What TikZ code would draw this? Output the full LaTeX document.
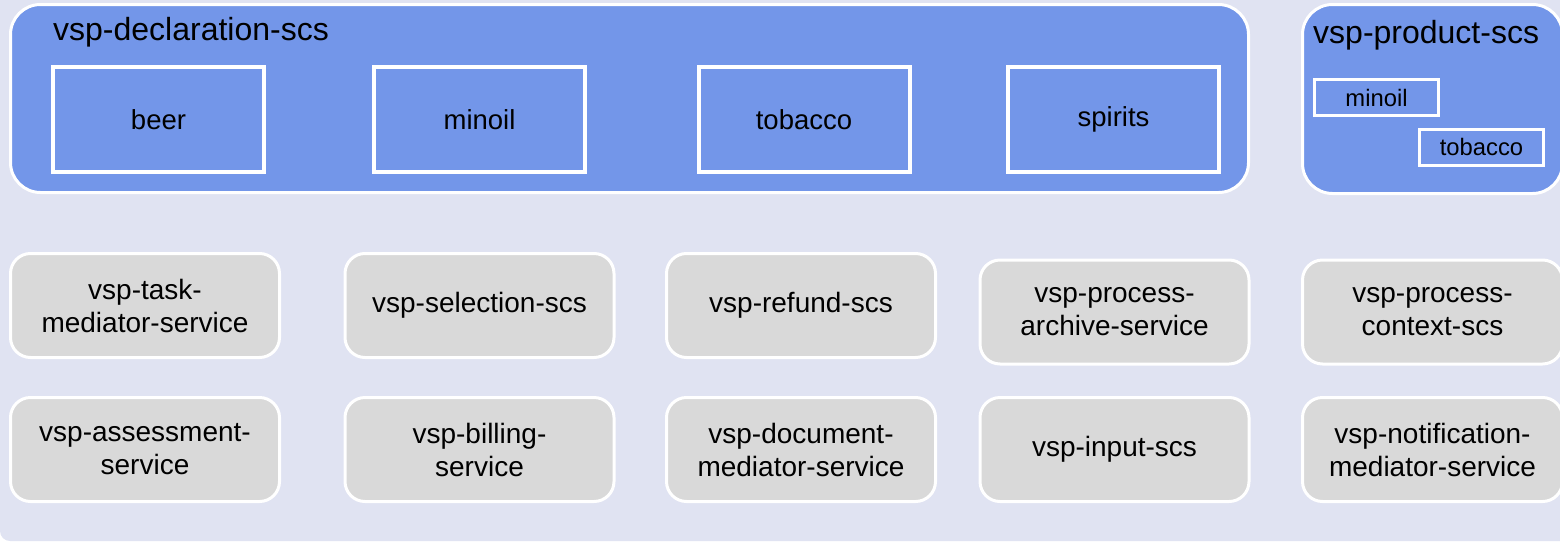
\documentclass[tikz,border=0pt]{standalone}
\usepackage{fontspec}
\setmainfont{Liberation Sans}
\definecolor{bgback}{RGB}{224,227,242}
\definecolor{scsblue}{RGB}{115,150,233}
\definecolor{svcgray}{RGB}{217,217,217}
\begin{document}
\begin{tikzpicture}[x=1pt,y=-1pt,
    scs/.style={draw=white,line width=3pt,fill=scsblue,rounded corners=30pt,inner sep=0pt},
    part/.style={draw=white,line width=4pt,fill=scsblue,minimum width=211pt,minimum height=105pt,inner sep=0pt,font=\fontsize{27.5}{33}\selectfont},
    smallpart/.style={draw=white,line width=3pt,fill=scsblue,minimum width=124pt,minimum height=36pt,inner sep=0pt,font=\fontsize{23.8}{28}\selectfont},
    service/.style={draw=white,line width=3pt,fill=svcgray,rounded corners=20pt,minimum width=269pt,minimum height=104pt,inner sep=0pt,align=center,font=\fontsize{28}{33}\selectfont},
    title/.style={anchor=base west,inner sep=0pt,font=\fontsize{32}{38}\selectfont}]
         %sfondo
         \useasboundingbox (0,0) rectangle (1560,541);
         \clip (0,0) rectangle (1560,541);
         \fill[bgback,rounded corners=10pt] (0,-20) rectangle (1600,541);
         %declaration
         \node[scs,minimum width=1238pt,minimum height=188pt] (decl) at (629.5,98.5) {};
         \node[title] (decltitle) at (53,40) {vsp-declaration-scs};
         \node[part] (beer) at (158.5,119.5) {beer};
         \node[part] (minoil) at (479.5,119.5) {minoil};
         \node[part] (tobacco) at (804,119.5) {tobacco};
         \node[part] (spirits) at (1113.5,119.5) {spirits};
         %product
         \node[scs,minimum width=260pt,minimum height=189pt] (prod) at (1432.5,99) {};
         \node[title] (prodtitle) at (1313,43) {vsp-product-scs};
         \node[smallpart] (pminoil) at (1376.5,97.5) {minoil};
         \node[smallpart] (ptobacco) at (1481.5,147) {tobacco};
         %prima fila
         \node[service] (task) at (145,305.5) {vsp-task-\\mediator-service};
         \node[service] (selection) at (479.5,305.5) {vsp-selection-scs};
         \node[service] (refund) at (801,305.5) {vsp-refund-scs};
         \node[service] (archive) at (1114.5,312) {vsp-process-\\archive-service};
         \node[service,minimum width=260pt] (context) at (1432.5,312) {vsp-process-\\context-scs};
         %seconda fila
         \node[service] (assessment) at (145,449.5) {vsp-assessment-\\service};
         \node[service] (billing) at (479.5,449.5) {vsp-billing-\\service};
         \node[service] (document) at (801,449.5) {vsp-document-\\mediator-service};
         \node[service] (input) at (1114.5,449.5) {vsp-input-scs};
         \node[service,minimum width=260pt] (notification) at (1432.5,449.5) {vsp-notification-\\mediator-service};
\end{tikzpicture}
\end{document}
